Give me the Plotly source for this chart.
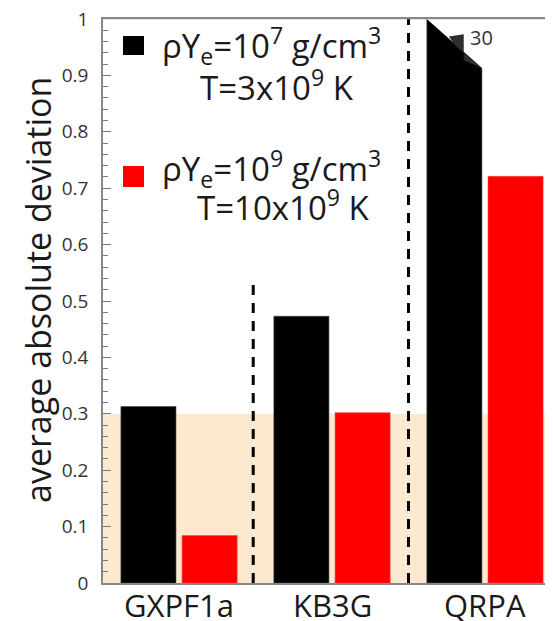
import plotly.graph_objects as go

# ---- data ----
categories = ["GXPF1a", "KB3G", "QRPA"]
cat_pos = [0, 1, 2]
dev_low = [0.313, 0.473, 30]      # rhoYe=1e7, T=3e9 (QRPA off-scale: 30)
dev_high = [0.084, 0.302, 0.721]  # rhoYe=1e9, T=10e9
band_top = 0.3
separators_x = [0.485, 1.5]
separators_top = [0.53, 1.0]
y_ticks = [0, 0.1, 0.2, 0.3, 0.4, 0.5, 0.6, 0.7, 0.8, 0.9, 1]

FONT = "Open Sans"
OFF = 8                      # page body margin
W, H = 553, 621
ML, MR, MT, MB = 95, 0, 11, 46
XR = [-0.497, 2.497]
YR = [0, 1]
BW = 0.36
OFF_L, OFF_R = -0.38, 0.02

fig = go.Figure()
fig.add_trace(go.Bar(x=cat_pos, y=dev_low, width=BW, offset=OFF_L,
                     marker=dict(color="black", line=dict(color="#444", width=0.6)),
                     showlegend=False))
fig.add_trace(go.Bar(x=cat_pos, y=dev_high, width=BW, offset=OFF_R,
                     marker=dict(color="#ff0000", line=dict(color="#ff4040", width=0.6)),
                     showlegend=False))

shapes = []
# beige band
shapes.append(dict(type="rect", xref="paper", yref="y", x0=0, x1=1, y0=0, y1=band_top,
                   fillcolor="#fde9cf", line=dict(width=0), layer="below"))
# separators
for sx, st in zip(separators_x, separators_top):
    shapes.append(dict(type="line", xref="x", yref="y", x0=sx, x1=sx, y0=0, y1=st,
                       line=dict(color="black", width=3, dash="10px,8px"), layer="above"))

# off-scale bar: cut corner + folded flap
qi = 2
bl = cat_pos[qi] + OFF_L
br = bl + BW
cut = 0.913
shapes.append(dict(type="path", xref="x", yref="y",
                   path=f"M {bl},{YR[1]} L {br+0.01},{YR[1]} L {br+0.01},{cut} L {br},{cut} Z",
                   fillcolor="white", line=dict(width=0), layer="above"))
def fx(f):
    return bl + f * BW
flap = [(fx(0.40), 0.969), (fx(0.67), 0.973), (fx(0.67), 0.927), (fx(1.0), cut), (fx(0.51), 0.953)]
shapes.append(dict(type="path", xref="x", yref="y",
                   path="M " + " L ".join(f"{a},{b}" for a, b in flap) + " Z",
                   fillcolor="#2e2e2e", line=dict(width=0), layer="above"))

PW = W - ML - MR
PH = H - MT - MB
# top frame line (unclipped, paper coords)
shapes.append(dict(type="line", xref="paper", yref="paper", x0=-0.002, x1=1,
                   y0=1 + 0.8 / PH, y1=1 + 0.8 / PH,
                   line=dict(color="#888", width=2), layer="above"))

# legend squares (paper coords from screen-pixel layout)
def px2paper(px, py):
    return (px - OFF - ML) / PW, (H - MB - (py - OFF)) / PH
for color, (y0p, y1p) in (("black", (36, 55)), ("#ff0000", (166, 187))):
    xa, ya = px2paper(123, y1p)
    xb, yb = px2paper(144, y0p)
    shapes.append(dict(type="rect", xref="paper", yref="paper", x0=xa, x1=xb, y0=ya, y1=yb,
                       fillcolor=color, line=dict(width=0)))

annotations = []
def ann(text, px, py, xanchor="left", size=33, color="#1a1a1a"):
    xp, yp = px2paper(px, py)
    annotations.append(dict(text=text, x=xp, y=yp, xref="paper", yref="paper",
                            xanchor=xanchor, yanchor="middle", showarrow=False,
                            font=dict(family=FONT, size=size, color=color)))

ann("ρY<sub>e</sub>=10<sup>7</sup> g/cm<sup>3</sup>", 160, 45)
ann("T=3x10<sup>9</sup> K", 277, 86, xanchor="center")
ann("ρY<sub>e</sub>=10<sup>9</sup> g/cm<sup>3</sup>", 160, 168)
ann("T=10x10<sup>9</sup> K", 283, 206, xanchor="center")
ann("30", 481, 38, xanchor="center", size=20, color="#333")
# category labels placed just below the axis
for c, label in zip(cat_pos, categories):
    annotations.append(dict(text=label, x=c, y=0, xref="x", yref="y",
                            xanchor="center", yanchor="top", yshift=1, showarrow=False,
                            font=dict(family=FONT, size=31, color="#1a1a1a")))
# y title
xp, yp = px2paper(38, 290)
annotations.append(dict(text="average absolute deviation", x=xp, y=yp, xref="paper", yref="paper",
                        xanchor="center", yanchor="middle", textangle=-90, showarrow=False,
                        font=dict(family=FONT, size=34, color="#1a1a1a")))

fig.update_layout(
    width=W, height=H, margin=dict(l=ML, r=MR, t=MT, b=MB),
    paper_bgcolor="white", plot_bgcolor="white",
    shapes=shapes, annotations=annotations,
    font=dict(family=FONT, color="#1a1a1a"),
    xaxis=dict(range=XR, tickvals=cat_pos, ticktext=[""] * len(categories), ticks="",
               showline=True, mirror=True, linecolor="#888", linewidth=1.5,
               showgrid=False, zeroline=False, automargin=False),
    yaxis=dict(range=YR, tickvals=y_ticks, ticktext=[f"{v:g}" for v in y_ticks],
               ticks="inside", ticklen=8, tickcolor="#777", tickwidth=1,
               minor=dict(dtick=0.02, ticks="inside", ticklen=5, tickcolor="#777"),
               showline=True, linecolor="#888", linewidth=1.5, automargin=False,
               showgrid=False, zeroline=False, ticklabelstandoff=9,
               ticklabeloverflow="allow",
               tickfont=dict(family=FONT, size=19, color="#333")),
)

fig.write_html("out.html")
